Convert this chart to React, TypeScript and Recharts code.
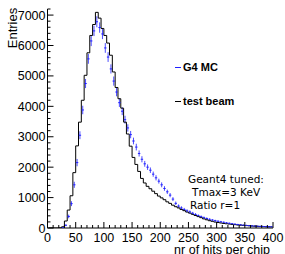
import React from "react"
import { ComposedChart, Line, Scatter, ErrorBar, XAxis, YAxis, Legend } from "recharts"

// histogram: 80 bins of 5 hits, 0..400
const binWidth = 5

// test beam (black step histogram)
const beamCounts = [
  0, 0, 0, 0, 5, 40, 230, 590, 1060, 1820,
  2700, 3480, 4200, 5020, 5760, 6330, 6690, 7090, 6900, 6560,
  6330, 6080, 5680, 5130, 4620, 4250, 3940, 3480, 3090, 2690,
  2320, 2090, 1860, 1630, 1480, 1370, 1290, 1210, 1130, 1050,
  990, 930, 860, 810, 750, 700, 660, 610, 570, 525,
  490, 450, 410, 375, 340, 300, 270, 240, 220, 195,
  180, 165, 150, 140, 130, 118, 110, 100, 95, 86,
  80, 74, 66, 60, 56, 51, 48, 44, 40, 38,
]

// G4 MC (blue points with errors)
const mcCounts = [
  0, 0, 0, 0, 0, 10, 90, 380, 800, 1420,
  2150, 3050, 3880, 4750, 5560, 6150, 6480, 6780, 6590, 6380,
  5920, 5620, 5230, 4830, 4470, 4120, 3840, 3560, 3290, 3070,
  2860, 2660, 2450, 2260, 2110, 2000, 1900, 1770, 1650, 1540,
  1420, 1300, 1190, 1080, 950, 810, 720, 660, 610, 565,
  530, 485, 445, 405, 372, 340, 312, 286, 262, 240,
  222, 205, 188, 170, 155, 140, 126, 113, 102, 93,
  85, 78, 70, 64, 58, 53, 49, 45, 42, 40,
]

const mcErrors = [
  0, 0, 0, 0, 0, 10, 30, 60, 80, 100,
  120, 130, 140, 150, 160, 170, 170, 180, 170, 170,
  160, 160, 150, 150, 140, 140, 130, 130, 120, 120,
  110, 110, 100, 100, 95, 90, 90, 85, 85, 80,
  80, 75, 70, 70, 65, 60, 55, 55, 50, 50,
  48, 46, 44, 42, 40, 38, 36, 34, 32, 30,
  30, 28, 28, 26, 26, 25, 24, 24, 23, 22,
  22, 21, 21, 20, 20, 20, 19, 19, 18, 18,
]

const xTicks = [0, 50, 100, 150, 200, 250, 300, 350, 400]
const yTicks = [0, 1000, 2000, 3000, 4000, 5000, 6000, 7000]

const data = beamCounts.map((v, i) => ({
  x: i * binWidth + binWidth / 2,
  beam: v,
  mc: mcCounts[i],
  mcErr: mcErrors[i],
}))

const xAll: number[] = []
for (let v = 0; v <= 400; v += 10) xAll.push(v)
const yAll: number[] = []
for (let v = 0; v <= 7200; v += 200) yAll.push(v)

const FONT = "'Liberation Sans', Arial, Helvetica, sans-serif"
const BLUE = "#2020ff"
const legendColors: Record<string, string> = { "G4 MC": BLUE, "test beam": "#000" }

const BottomTick = (p: any) => {
  const major = xTicks.includes(p.payload.value)
  return (
    <g>
      <line x1={p.x} x2={p.x} y1={p.y} y2={p.y - (major ? 6 : 3)} stroke="#000" />
      {major && (
        <text x={p.x} y={p.y + 13.5} textAnchor="middle" fontSize={12.5} fontFamily={FONT} fill="#000">
          {p.payload.value}
        </text>
      )}
    </g>
  )
}

const TopTick = (p: any) => {
  const major = xTicks.includes(p.payload.value)
  return <line x1={p.x} x2={p.x} y1={p.y} y2={p.y + (major ? 6 : 3)} stroke="#000" />
}

const LeftTick = (p: any) => {
  const major = yTicks.includes(p.payload.value)
  return (
    <g>
      <line x1={p.x} x2={p.x + (major ? 6 : 3)} y1={p.y} y2={p.y} stroke="#000" />
      {major && (
        <text x={p.x - 2} y={p.y} dy="0.36em" textAnchor="end" fontSize={12.5} fontFamily={FONT} fill="#000">
          {p.payload.value}
        </text>
      )}
    </g>
  )
}

const RightTick = (p: any) => {
  const major = yTicks.includes(p.payload.value)
  return <line x1={p.x} x2={p.x - (major ? 6 : 3)} y1={p.y} y2={p.y} stroke="#000" />
}

const McPoint = (p: any) => {
  if (!p.payload || p.payload.mc === 0) return <g />
  return <line x1={p.cx - 1.2} x2={p.cx + 1.2} y1={p.cy} y2={p.cy} stroke={BLUE} strokeWidth={1} />
}

const LegendBox = (props: any) => {
  const items = [...(props.payload || [])].sort((a: any) => (a.value === "G4 MC" ? -1 : 1))
  return (
    <div style={{ position: "relative", width: 285, height: 254 }}>
      {items.map((it: any, i: number) => (
        <div
          key={it.value}
          style={{ position: "absolute", left: 175, top: 61 + i * 34, display: "flex", alignItems: "center", whiteSpace: "nowrap" }}
        >
          <div style={{ width: 6, height: 1, background: legendColors[it.value] || it.color, marginRight: 2 }} />
          <span style={{ fontFamily: FONT, fontWeight: "bold", fontSize: 11, color: "#000" }}>{it.value}</span>
        </div>
      ))}
    </div>
  )
}

export default function App() {
  return (
    <div style={{ position: "absolute", left: 0, top: 0, width: 285, height: 254, background: "#fff", overflow: "hidden" }}>
      <ComposedChart width={285} height={254} data={data} margin={{ top: 9, right: 12, bottom: 0, left: 0 }}>
        <XAxis
          xAxisId="b"
          dataKey="x"
          type="number"
          domain={[0, 400]}
          ticks={xAll}
          interval={0}
          tick={<BottomTick />}
          tickLine={false}
          tickSize={0}
          tickMargin={0}
          height={26}
          axisLine={{ stroke: "#000" }}
        />
        <XAxis
          xAxisId="t"
          orientation="top"
          dataKey="x"
          type="number"
          domain={[0, 400]}
          ticks={xAll}
          interval={0}
          tick={<TopTick />}
          tickLine={false}
          tickSize={0}
          tickMargin={0}
          height={0}
          axisLine={{ stroke: "#000" }}
        />
        <YAxis
          yAxisId="l"
          type="number"
          domain={[0, 7200]}
          ticks={yAll}
          interval={0}
          tick={<LeftTick />}
          tickLine={false}
          tickSize={0}
          tickMargin={0}
          width={47.5}
          allowDataOverflow
          axisLine={{ stroke: "#000" }}
        />
        <YAxis
          yAxisId="r"
          orientation="right"
          type="number"
          domain={[0, 7200]}
          ticks={yAll}
          interval={0}
          tick={<RightTick />}
          tickLine={false}
          tickSize={0}
          tickMargin={0}
          width={0}
          allowDataOverflow
          axisLine={{ stroke: "#000" }}
        />
        <Scatter
          xAxisId="b"
          yAxisId="l"
          name="G4 MC"
          dataKey="mc"
          fill={BLUE}
          stroke={BLUE}
          shape={<McPoint />}
          isAnimationActive={false}
          legendType="line"
        >
          <ErrorBar dataKey="mcErr" direction="y" width={0} stroke={BLUE} strokeWidth={1} opacity={0.8} />
        </Scatter>
        <Line
          xAxisId="b"
          yAxisId="l"
          name="test beam"
          dataKey="beam"
          type="step"
          stroke="#000"
          strokeWidth={1}
          dot={false}
          isAnimationActive={false}
        />
        <Legend
          layout="vertical"
          align="center"
          verticalAlign="middle"
          content={<LegendBox />}
          wrapperStyle={{ left: 0, top: 0, width: 285, height: 254, pointerEvents: "none" }}
        />
      </ComposedChart>
      <div
        style={{
          position: "absolute",
          left: 4,
          top: 28,
          transform: "translate(-50%, -50%) rotate(-90deg)",
          transformOrigin: "center",
          marginLeft: 8,
          fontFamily: FONT,
          fontSize: 13,
          lineHeight: "13px",
          whiteSpace: "nowrap",
        }}
      >
        Entries
      </div>
      <div
        style={{
          position: "absolute",
          right: 15,
          top: 244,
          fontFamily: FONT,
          fontSize: 12.5,
          lineHeight: "12px",
          whiteSpace: "nowrap",
        }}
      >
        nr of hits per chip
      </div>
      <div
        style={{
          position: "absolute",
          left: 188,
          top: 173,
          fontFamily: "'DejaVu Sans', sans-serif",
          fontSize: 10.5,
          lineHeight: "13px",
          whiteSpace: "nowrap",
        }}
      >
        <div>Geant4 tuned:</div>
        <div style={{ paddingLeft: 4 }}>Tmax=3 KeV</div>
        <div style={{ paddingLeft: 2 }}>Ratio r=1</div>
      </div>
    </div>
  )
}
